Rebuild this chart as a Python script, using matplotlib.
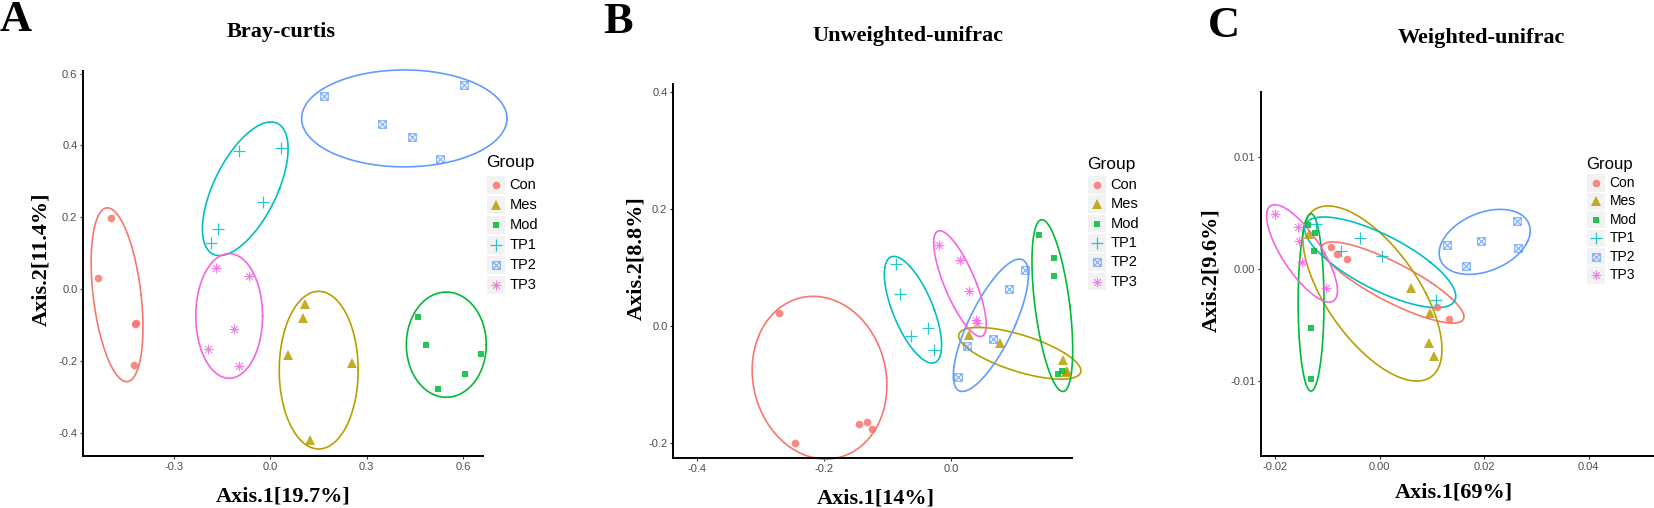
import numpy as np
import matplotlib
matplotlib.use("Agg")
import matplotlib.pyplot as plt
from matplotlib.path import Path
from matplotlib.patches import Rectangle
from matplotlib.lines import Line2D

plt.rcParams['axes.unicode_minus'] = False

groups = ["Con", "Mes", "Mod", "TP1", "TP2", "TP3"]
colors = ["#F8766D", "#B79F00", "#00BA38", "#00BFC4", "#619CFF", "#F564E3"]

# Bray-curtis (A)
bray_x = [[-0.497, -0.535, -0.421, -0.417, -0.424],
          [0.107, 0.102, 0.055, 0.253, 0.123],
          [0.460, 0.485, 0.657, 0.606, 0.521],
          [-0.099, 0.033, -0.022, -0.163, -0.185],
          [0.166, 0.602, 0.347, 0.442, 0.529],
          [-0.168, -0.065, -0.113, -0.194, -0.099]]
bray_y = [[0.198, 0.032, -0.098, -0.096, -0.211],
          [-0.041, -0.082, -0.183, -0.206, -0.420],
          [-0.079, -0.156, -0.180, -0.236, -0.278],
          [0.384, 0.393, 0.242, 0.167, 0.128],
          [0.536, 0.568, 0.460, 0.424, 0.361],
          [0.059, 0.037, -0.111, -0.166, -0.214]]
# ellipses: centre x, centre y, x half-extent, y half-extent,
# x offset of the topmost point
bray_ell = [[-0.477, -0.016, 0.0806, 0.242, -0.030],
            [0.1506, -0.226, 0.1228, 0.2195, 0.0],
            [0.5478, -0.155, 0.1244, 0.1465, 0.0],
            [-0.078, 0.279, 0.1333, 0.186, 0.080],
            [0.417, 0.475, 0.3196, 0.1349, 0.0],
            [-0.128, -0.075, 0.1039, 0.1735, 0.0]]

# Unweighted-unifrac (B)
unw_x = [[-0.271, -0.245, -0.145, -0.132, -0.124],
         [0.028, 0.077, 0.177, 0.183, 0.181],
         [0.139, 0.163, 0.163, 0.169, 0.175],
         [-0.087, -0.080, -0.063, -0.036, -0.026],
         [0.117, 0.091, 0.066, 0.025, 0.012],
         [-0.019, 0.015, 0.028, 0.042, 0.040]]
unw_y = [[0.023, -0.200, -0.167, -0.163, -0.175],
         [-0.015, -0.029, -0.058, -0.077, -0.079],
         [0.156, 0.117, 0.085, -0.081, -0.076],
         [0.106, 0.055, -0.017, -0.003, -0.040],
         [0.095, 0.063, -0.022, -0.034, -0.087],
         [0.138, 0.112, 0.060, 0.006, 0.010]]
unw_ell = [[-0.207, -0.088, 0.1062, 0.1388, -0.010],
           [0.1087, -0.0464, 0.0963, 0.0441, -0.065],
           [0.160, 0.035, 0.0321, 0.1465, -0.0165],
           [-0.0597, 0.0279, 0.0451, 0.0910, -0.030],
           [0.0631, 0.0014, 0.0592, 0.1129, 0.045],
           [0.0144, 0.0725, 0.0414, 0.0902, -0.032]]

# Weighted-unifrac (C)
wu_x = [[-0.00929, -0.00820, -0.00623, 0.01091, 0.01321],
        [-0.01348, 0.00596, 0.00955, 0.00949, 0.01043],
        [-0.01362, -0.01240, -0.01260, -0.01321, -0.01315],
        [-0.01226, -0.00738, -0.00372, 0.00041, 0.01071],
        [0.01295, 0.01653, 0.01931, 0.02636, 0.02642],
        [-0.01998, -0.01565, -0.01539, -0.01490, -0.01022]]
wu_y = [[0.00197, 0.00132, 0.00087, -0.00337, -0.00444],
        [0.00317, -0.00167, -0.00391, -0.00659, -0.00776],
        [0.00391, 0.00322, 0.00161, -0.00525, -0.00988],
        [0.00406, 0.00161, 0.00278, 0.00116, -0.00280],
        [0.00218, 0.00030, 0.00248, 0.00427, 0.00192],
        [0.00492, 0.00376, 0.00248, 0.00060, -0.00167]]
wu_ell = [[0.00251, -0.00121, 0.01363, 0.00363, -0.0115],
          [-0.00139, -0.00219, 0.01332, 0.00784, -0.0085],
          [-0.01312, -0.00299, 0.00247, 0.00794, 0.0],
          [0.0001, 0.0006, 0.01447, 0.00406, -0.0108],
          [0.0201, 0.00243, 0.00871, 0.00291, 0.0030],
          [-0.01485, 0.0014, 0.00678, 0.00436, -0.0052]]

M, L = Path.MOVETO, Path.LINETO
sq_cross = Path([(-1, -1), (1, -1), (1, 1), (-1, 1), (-1, -1), (-1, -1), (1, 1), (-1, 1), (1, -1)],
                [M, L, L, L, L, M, L, M, L])
asterisk = Path([(-1, 0), (1, 0), (0, -1), (0, 1), (-.7, -.7), (.7, .7), (-.7, .7), (.7, -.7)],
                [M, L, M, L, M, L, M, L])
marker_style = [dict(marker='o', ms=5.5, mew=0, fillstyle='full'),
                dict(marker='^', ms=6.5, mew=0, fillstyle='full'),
                dict(marker='s', ms=5.0, mew=0, fillstyle='full'),
                dict(marker='+', ms=8, mew=0.9),
                dict(marker=sq_cross, ms=5.4, mew=0.8, fillstyle='none'),
                dict(marker=asterisk, ms=7, mew=0.8, fillstyle='none')]

W, H = 1654, 508
fig = plt.figure(figsize=(W / 100, H / 100), dpi=100)
SERIF = "Liberation Serif"
SANS = "Liberation Sans"


def fx(p):
    return p / W


def fy(p):
    return 1 - p / H


def ellipse_xy(cx, cy, rx, ry, tx, segments=120):
    h = np.sqrt(max(rx ** 2 - tx ** 2, 0))
    t = np.linspace(0, 2 * np.pi, segments)
    return cx + h * np.cos(t) + tx * np.sin(t), cy + ry * np.sin(t)


def panel(box, xs, ys, ells, xlim, ylim, xticks, yticks, xfmt, yfmt):
    left, right, top, bottom = box
    ax = fig.add_axes([fx(left), fy(bottom), (right - left) / W, (bottom - top) / H])
    for i in range(6):
        ex, ey = ellipse_xy(*ells[i])
        ax.plot(ex, ey, color=colors[i], lw=1.2, zorder=2, clip_on=False)
        st = dict(marker_style[i])
        ax.plot(xs[i], ys[i], ls='none', color=colors[i], mfc=colors[i], mec=colors[i],
                alpha=0.85, zorder=3, clip_on=False, **st)
    ax.set_xlim(*xlim)
    ax.set_ylim(*ylim)
    ax.set_xticks(xticks)
    ax.set_yticks(yticks)
    ax.set_xticklabels([xfmt % v for v in xticks])
    ax.set_yticklabels([yfmt % v for v in yticks])
    for s in ["top", "right"]:
        ax.spines[s].set_visible(False)
    for s in ["left", "bottom"]:
        ax.spines[s].set_linewidth(1.4)
        ax.spines[s].set_color("black")
    ax.tick_params(length=2.5, width=0.8, color="#333333", labelcolor="#4D4D4D",
                   labelsize=8, pad=1.5)
    for lab in ax.get_xticklabels() + ax.get_yticklabels():
        lab.set_family(SANS)
    ax.patch.set_alpha(0)
    return ax


def legend(x0, y_title, ys, fs_title, fs_lab, key=17.5):
    fig.text(fx(x0 - 1), fy(y_title), "Group", fontsize=fs_title, family=SANS,
             ha='left', va='center')
    for i, yy in enumerate(ys):
        fig.add_artist(Rectangle((fx(x0), fy(yy + key / 2)), key / W, key / H,
                                 transform=fig.transFigure, facecolor="#F2F2F2",
                                 edgecolor='none'))
        st = dict(marker_style[i])
        fig.add_artist(Line2D([fx(x0 + key / 2)], [fy(yy)], transform=fig.transFigure,
                              ls='none', color=colors[i], mfc=colors[i], mec=colors[i],
                              alpha=0.85, **st))
        fig.text(fx(x0 + key + 5), fy(yy), groups[i], fontsize=fs_lab, family=SANS,
                 ha='left', va='center')


# A
panel((83, 483, 71, 456), bray_x, bray_y, bray_ell, (-0.583, 0.662), (-0.465, 0.607),
      [-0.3, 0.0, 0.3, 0.6], [-0.4, -0.2, 0.0, 0.2, 0.4, 0.6], "%.1f", "%.1f")
fig.text(fx(0), fy(31), "A", fontsize=32, family=SERIF, weight='bold', va='baseline')
fig.text(fx(281), fy(37), "Bray-curtis", fontsize=16, family=SERIF, weight='bold',
         ha='center', va='baseline')
fig.text(fx(283), fy(501), "Axis.1[19.7%]", fontsize=16, family=SERIF, weight='bold',
         ha='center', va='baseline')
fig.text(fx(41), fy(259), "Axis.2[11.4%]", fontsize=16, family=SERIF, weight='bold',
         ha='center', va='center', rotation=90)
legend(487, 163, [185, 205, 225, 245, 265, 285], 12.5, 10.5)

# B
panel((673, 1072, 84, 458), unw_x, unw_y, unw_ell, (-0.438, 0.191), (-0.225, 0.413),
      [-0.4, -0.2, 0.0], [-0.2, 0.0, 0.2, 0.4], "%.1f", "%.1f")
fig.text(fx(603), fy(33), "B", fontsize=32, family=SERIF, weight='bold', va='baseline')
fig.text(fx(908), fy(41), "Unweighted-unifrac", fontsize=16, family=SERIF, weight='bold',
         ha='center', va='baseline')
fig.text(fx(876), fy(503), "Axis.1[14%]", fontsize=16, family=SERIF, weight='bold',
         ha='center', va='baseline')
fig.text(fx(636), fy(258), "Axis.2[8.8%]", fontsize=16, family=SERIF, weight='bold',
         ha='center', va='center', rotation=90)
legend(1088, 165, [185, 204, 223.5, 243, 262, 281.5], 12.5, 10.5)

# C
panel((1261, 1654, 92, 456), wu_x, wu_y, wu_ell, (-0.0227, 0.0525), (-0.01674, 0.01585),
      [-0.02, 0.0, 0.02, 0.04], [-0.01, 0.0, 0.01], "%.2f", "%.2f")
fig.text(fx(1208), fy(37), "C", fontsize=32, family=SERIF, weight='bold', va='baseline')
fig.text(fx(1481), fy(43), "Weighted-unifrac", fontsize=16, family=SERIF, weight='bold',
         ha='center', va='baseline')
fig.text(fx(1454), fy(498), "Axis.1[69%]", fontsize=16, family=SERIF, weight='bold',
         ha='center', va='baseline')
fig.text(fx(1211), fy(270), "Axis.2[9.6%]", fontsize=16, family=SERIF, weight='bold',
         ha='center', va='center', rotation=90)
legend(1587, 164, [183, 201.3, 219.7, 238.3, 256.7, 275], 12, 10)

fig.savefig("out.png", dpi=100)
